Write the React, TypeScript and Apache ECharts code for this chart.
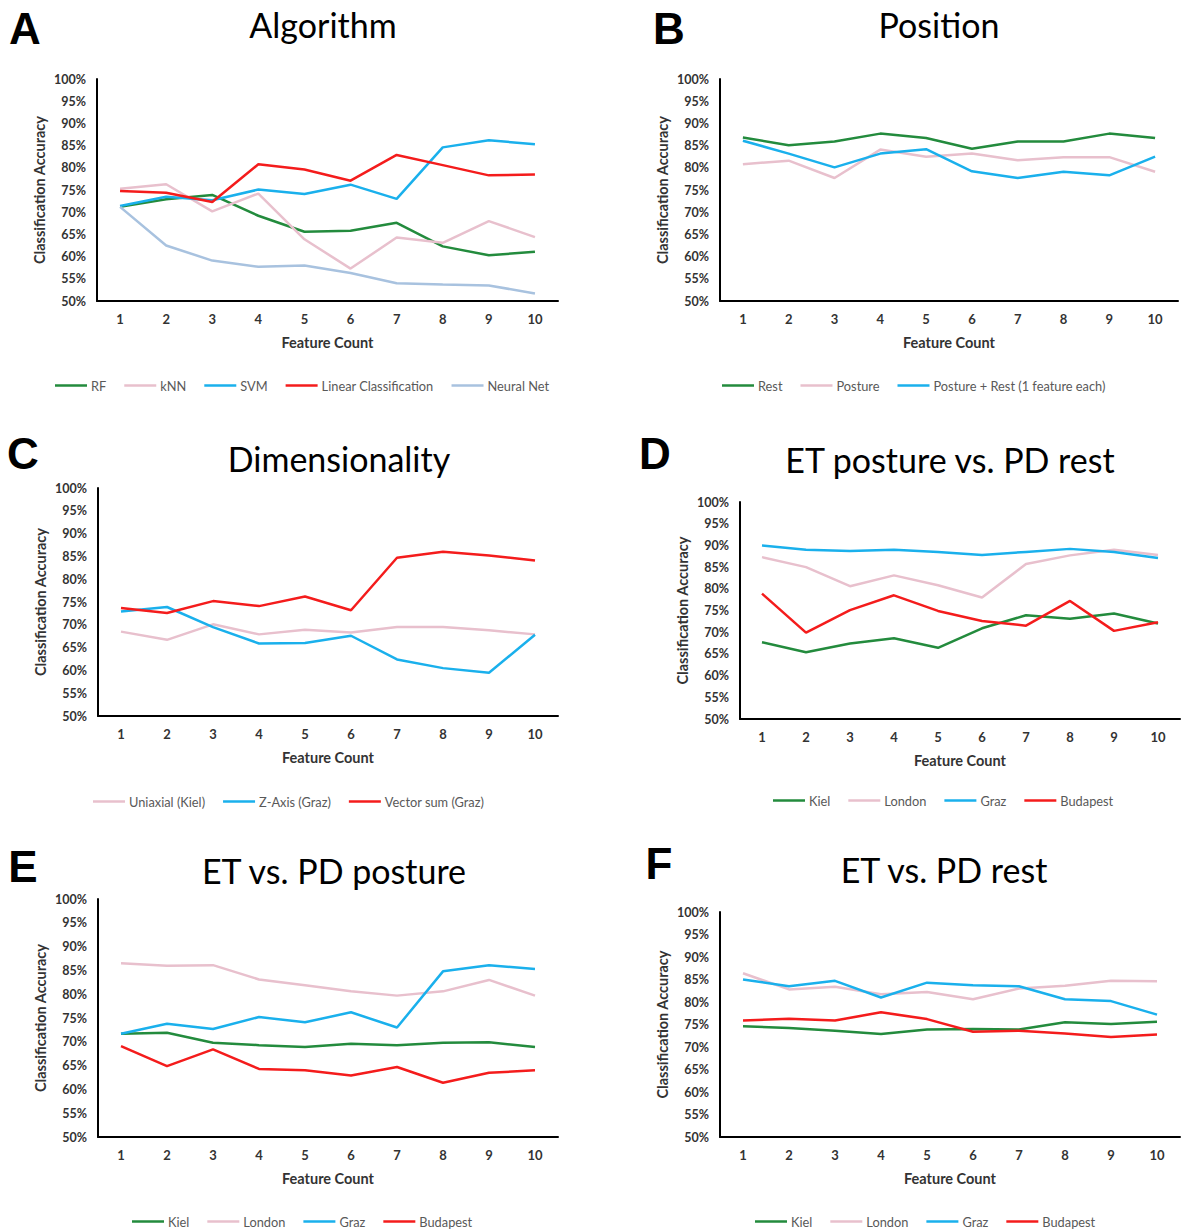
import React, { useEffect, useRef } from "react";
import * as echarts from "echarts";

const featureCounts = ["1", "2", "3", "4", "5", "6", "7", "8", "9", "10"];
const yTickMin = 50;
const yTickMax = 100;
const yTickStep = 5;

// A - Algorithm
const algRF = [71.2, 72.9, 73.9, 69.2, 65.6, 65.8, 67.6, 62.3, 60.3, 61.1];
const algKNN = [75.3, 76.3, 70.2, 74.2, 63.9, 57.3, 64.3, 63.1, 68.0, 64.4];
const algSVM = [71.4, 73.5, 72.7, 75.1, 74.1, 76.2, 73.0, 84.6, 86.2, 85.3];
const algLinear = [74.8, 74.4, 72.3, 80.8, 79.6, 77.1, 82.9, 80.6, 78.3, 78.5];
const algNeural = [71.2, 62.5, 59.1, 57.7, 58.0, 56.3, 54.0, 53.7, 53.5, 51.7];

// B - Position
const posRest = [86.8, 85.1, 85.9, 87.7, 86.7, 84.3, 85.9, 85.9, 87.7, 86.7];
const posPosture = [80.8, 81.6, 77.7, 84.1, 82.5, 83.2, 81.7, 82.4, 82.4, 79.1];
const posBoth = [86.1, 83.2, 80.1, 83.2, 84.2, 79.2, 77.7, 79.1, 78.3, 82.5];

// C - Dimensionality
const dimUniaxial = [68.5, 66.7, 70.1, 67.9, 68.9, 68.3, 69.5, 69.5, 68.8, 67.9];
const dimZAxis = [72.9, 73.9, 69.5, 65.9, 66.0, 67.6, 62.4, 60.5, 59.5, 67.8];
const dimVector = [73.7, 72.6, 75.2, 74.1, 76.2, 73.2, 84.7, 86.0, 85.2, 84.1];

// D - ET posture vs. PD rest
const etprKiel = [67.7, 65.4, 67.4, 68.6, 66.4, 70.9, 73.9, 73.1, 74.3, 72.0];
const etprLondon = [87.3, 85.0, 80.6, 83.1, 80.8, 78.0, 85.7, 87.7, 89.0, 87.8];
const etprGraz = [90.0, 89.0, 88.7, 89.0, 88.5, 87.8, 88.5, 89.2, 88.5, 87.1];
const etprBudapest = [78.9, 69.9, 75.1, 78.5, 74.9, 72.6, 71.5, 77.2, 70.3, 72.3];

// E - ET vs. PD posture
const postKiel = [71.7, 71.9, 69.8, 69.3, 68.9, 69.6, 69.3, 69.8, 69.9, 68.9];
const postLondon = [86.5, 86.0, 86.1, 83.1, 81.9, 80.6, 79.7, 80.6, 83.0, 79.7];
const postGraz = [71.7, 73.8, 72.7, 75.2, 74.1, 76.2, 73.0, 84.8, 86.1, 85.3];
const postBudapest = [69.1, 64.9, 68.4, 64.3, 64.0, 62.9, 64.7, 61.4, 63.5, 64.0];

// F - ET vs. PD rest
const restKiel = [74.6, 74.2, 73.6, 72.9, 73.9, 74.0, 73.9, 75.5, 75.1, 75.6];
const restLondon = [86.4, 82.8, 83.4, 81.7, 82.2, 80.6, 83.0, 83.6, 84.7, 84.6];
const restGraz = [85.0, 83.5, 84.7, 81.0, 84.3, 83.7, 83.5, 80.6, 80.2, 77.2];
const restBudapest = [75.9, 76.3, 75.9, 77.7, 76.2, 73.4, 73.6, 73.0, 72.2, 72.8];

const GREEN = "#238B3D";
const PINK = "#E8C0CD";
const BLUE = "#1AB0EC";
const RED = "#F41C1C";
const STEEL = "#A8C2DF";

const TITLE_FONT = "Lato";
const AXIS_FONT = "Lato";

type S = { name: string; data: number[]; color: string };
type Panel = {
  letter: string;
  letterX: number;
  letterY: number;
  title: string;
  titleX: number;
  titleY: number;
  grid: { left: number; top: number; width: number; height: number };
  legendLeft: number;
  legendTop: number;
  series: S[];
};

const panels: Panel[] = [
  {
    letter: "A", letterX: 25, letterY: 28,
    title: "Algorithm", titleX: 323, titleY: 24,
    grid: { left: 97, top: 79, width: 461, height: 222 },
    legendLeft: 55, legendTop: 379,
    series: [
      { name: "RF", data: algRF, color: GREEN },
      { name: "kNN", data: algKNN, color: PINK },
      { name: "SVM", data: algSVM, color: BLUE },
      { name: "Linear Classification", data: algLinear, color: RED },
      { name: "Neural Net", data: algNeural, color: STEEL },
    ],
  },
  {
    letter: "B", letterX: 669, letterY: 28,
    title: "Position", titleX: 939, titleY: 24,
    grid: { left: 720, top: 79, width: 458, height: 222 },
    legendLeft: 722, legendTop: 379,
    series: [
      { name: "Rest", data: posRest, color: GREEN },
      { name: "Posture", data: posPosture, color: PINK },
      { name: "Posture + Rest (1 feature each)", data: posBoth, color: BLUE },
    ],
  },
  {
    letter: "C", letterX: 23, letterY: 453,
    title: "Dimensionality", titleX: 339, titleY: 458,
    grid: { left: 98, top: 488, width: 460, height: 228 },
    legendLeft: 93, legendTop: 795,
    series: [
      { name: "Uniaxial (Kiel)", data: dimUniaxial, color: PINK },
      { name: "Z-Axis (Graz)", data: dimZAxis, color: BLUE },
      { name: "Vector sum (Graz)", data: dimVector, color: RED },
    ],
  },
  {
    letter: "D", letterX: 655, letterY: 453,
    title: "ET posture vs. PD rest", titleX: 950, titleY: 459,
    grid: { left: 740, top: 502, width: 440, height: 217 },
    legendLeft: 773, legendTop: 794,
    series: [
      { name: "Kiel", data: etprKiel, color: GREEN },
      { name: "London", data: etprLondon, color: PINK },
      { name: "Graz", data: etprGraz, color: BLUE },
      { name: "Budapest", data: etprBudapest, color: RED },
    ],
  },
  {
    letter: "E", letterX: 23, letterY: 866,
    title: "ET vs. PD posture", titleX: 334, titleY: 870,
    grid: { left: 98, top: 899, width: 460, height: 238 },
    legendLeft: 132, legendTop: 1215,
    series: [
      { name: "Kiel", data: postKiel, color: GREEN },
      { name: "London", data: postLondon, color: PINK },
      { name: "Graz", data: postGraz, color: BLUE },
      { name: "Budapest", data: postBudapest, color: RED },
    ],
  },
  {
    letter: "F", letterX: 659, letterY: 863,
    title: "ET vs. PD rest", titleX: 944, titleY: 869,
    grid: { left: 720, top: 912, width: 460, height: 225 },
    legendLeft: 755, legendTop: 1215,
    series: [
      { name: "Kiel", data: restKiel, color: GREEN },
      { name: "London", data: restLondon, color: PINK },
      { name: "Graz", data: restGraz, color: BLUE },
      { name: "Budapest", data: restBudapest, color: RED },
    ],
  },
];

export default function App() {
  const ref = useRef<HTMLDivElement>(null);

  useEffect(() => {
    if (!ref.current) return;
    const chart = echarts.init(ref.current, null, { renderer: "svg" });

    const grid = panels.map((p) => ({ ...p.grid, containLabel: false }));
    const xAxis = panels.map((p, i) => ({
      type: "category",
      gridIndex: i,
      data: featureCounts,
      boundaryGap: true,
      name: "Feature Count",
      nameLocation: "middle",
      nameGap: 34,
      nameTextStyle: { fontFamily: AXIS_FONT, fontWeight: "bold", fontSize: 14.5, color: "#333" },
      axisLine: { show: true, lineStyle: { color: "#000", width: 2 } },
      axisTick: { show: false },
      axisLabel: { margin: 11, fontFamily: AXIS_FONT, fontWeight: "bold", fontSize: 13, color: "#333" },
      splitLine: { show: false },
    }));
    const yAxis = panels.map((p, i) => ({
      type: "value",
      gridIndex: i,
      min: yTickMin,
      max: yTickMax,
      interval: yTickStep,
      name: "Classification Accuracy",
      nameLocation: "middle",
      nameRotate: 90,
      nameGap: 50,
      nameTextStyle: { fontFamily: AXIS_FONT, fontWeight: "bold", fontSize: 14.5, color: "#333" },
      axisLine: { show: true, lineStyle: { color: "#000", width: 2 } },
      axisTick: { show: false },
      axisLabel: {
        margin: 11,
        formatter: "{value}%",
        fontFamily: AXIS_FONT,
        fontWeight: "bold",
        fontSize: 12.5,
        color: "#333",
      },
      splitLine: { show: false },
    }));

    const series: any[] = [];
    panels.forEach((p, i) => {
      p.series.forEach((s) => {
        series.push({
          type: "line",
          name: s.name,
          xAxisIndex: i,
          yAxisIndex: i,
          data: s.data,
          symbol: "none",
          lineStyle: { color: s.color, width: 2.5 },
          itemStyle: { color: s.color },
        });
      });
    });

    const legend = panels.map((p) => ({
      left: p.legendLeft,
      top: p.legendTop,
      padding: 0,
      orient: "horizontal",
      data: p.series.map((s) => ({ name: s.name, icon: "rect", itemStyle: { color: s.color } })),
      itemWidth: 32,
      itemHeight: 2.5,
      itemGap: 18,
      selectedMode: false,
      textStyle: { fontFamily: AXIS_FONT, fontSize: 12.8, color: "#595959", padding: [0, 0, 0, -1] },
    }));

    const graphic: any[] = [];
    panels.forEach((p) => {
      graphic.push({
        type: "text",
        x: p.letterX,
        y: p.letterY,
        style: {
          text: p.letter,
          font: "bold 44px 'Liberation Sans', Arial, sans-serif",
          fill: "#000",
          textAlign: "center",
          textVerticalAlign: "middle",
        },
      });
      graphic.push({
        type: "text",
        x: p.titleX,
        y: p.titleY,
        style: {
          text: p.title,
          font: `34px ${TITLE_FONT}, sans-serif`,
          fill: "#000",
          textAlign: "center",
          textVerticalAlign: "middle",
        },
      });
    });

    chart.setOption({
      animation: false,
      backgroundColor: "#fff",
      grid,
      xAxis,
      yAxis,
      legend,
      series,
      graphic,
    });

    return () => chart.dispose();
  }, []);

  return (
    <div
      ref={ref}
      style={{ position: "absolute", left: 0, top: 0, width: 1195, height: 1232, background: "#fff" }}
    />
  );
}
